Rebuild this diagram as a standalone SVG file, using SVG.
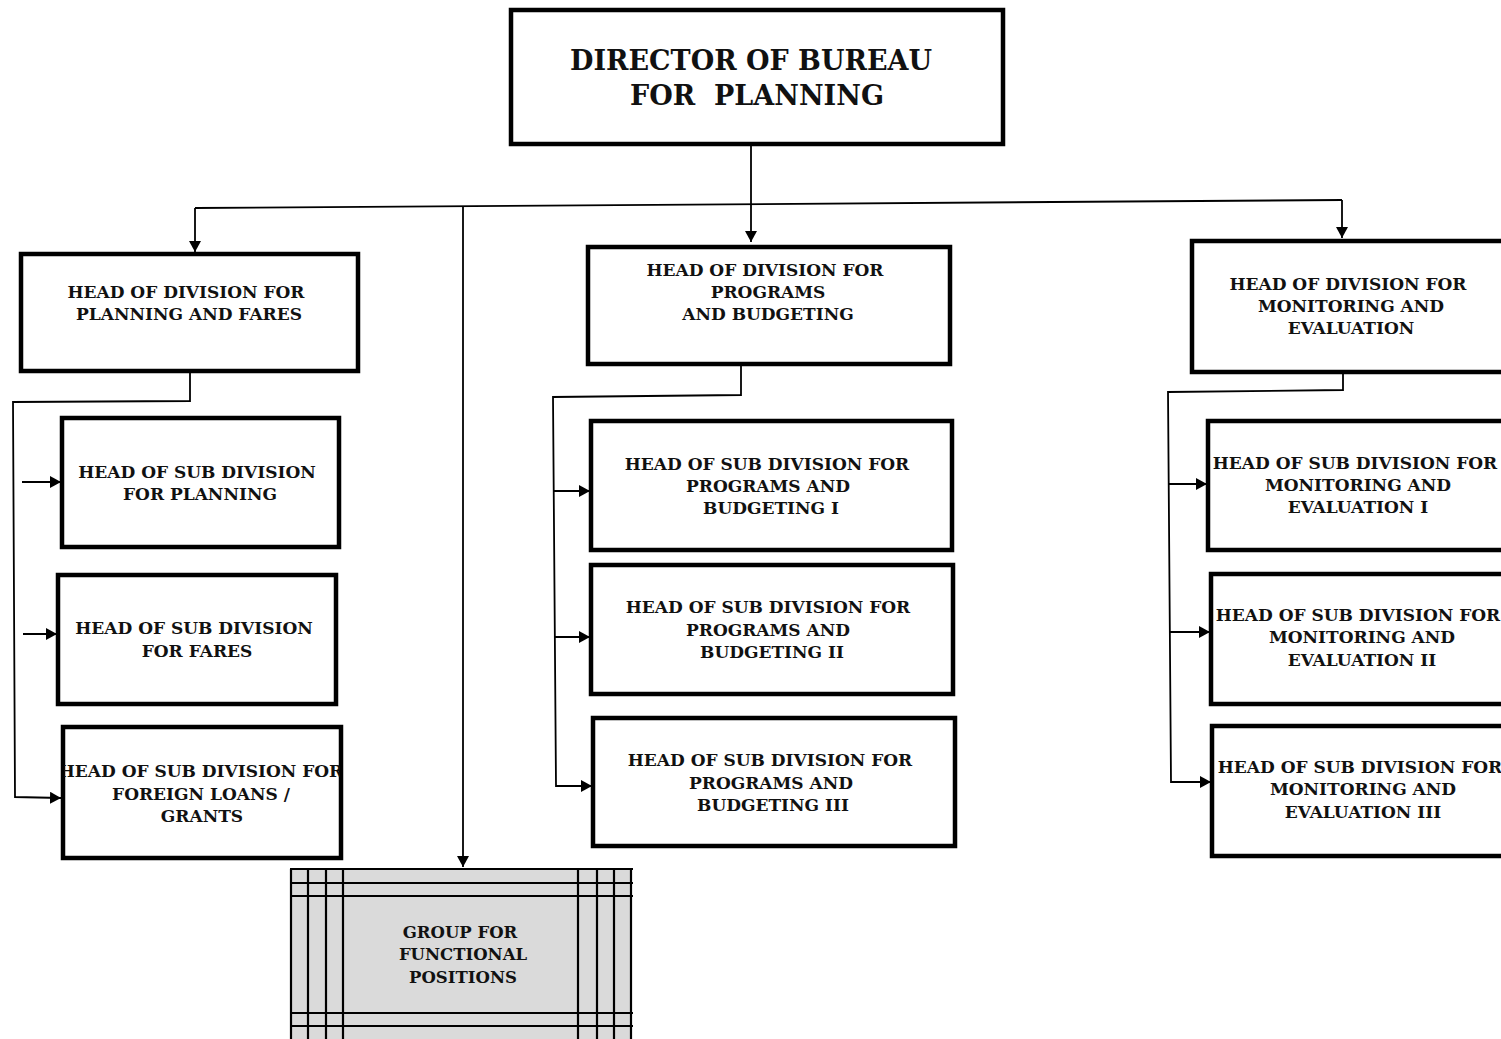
<svg xmlns="http://www.w3.org/2000/svg" width="1501" height="1039" viewBox="0 0 1501 1039">
<style>
.box{fill:#fff;stroke:#000;stroke-width:4.5}
.t{font-family:"DejaVu Serif","Liberation Serif",serif;font-weight:bold;font-size:17px;fill:#111;text-anchor:middle}
.big{font-size:27px;white-space:pre}
.g{font-size:16.5px}
.ln{fill:none;stroke:#000;stroke-width:1.8}
.gl{stroke:#000;stroke-width:2.2;fill:none}
</style>
<defs>
<marker id="ahs" markerWidth="11" markerHeight="12" refX="11" refY="6" orient="auto" markerUnits="userSpaceOnUse" viewBox="0 0 11 12">
<path d="M0,0 L11,6 L0,12 z" fill="#000"/>
</marker>
<clipPath id="c6"><rect x="64" y="728" width="276" height="129"/></clipPath>
</defs>

<g id="connectors">
<path class="ln" d="M751,146 L751,242" marker-end="url(#ahs)"/>
<path class="ln" d="M195,208 L1342,200"/>
<path class="ln" d="M195,208 L195,252" marker-end="url(#ahs)"/>
<path class="ln" d="M1342,200 L1342,238" marker-end="url(#ahs)"/>
<path class="ln" d="M463,207 L463,867" marker-end="url(#ahs)"/>
<!-- left -->
<path class="ln" d="M190,372 L190,401 L13,402 L15,797 L61,798" marker-end="url(#ahs)"/>
<path class="ln" d="M22,482 L61,482" marker-end="url(#ahs)"/>
<path class="ln" d="M23,634 L57,634" marker-end="url(#ahs)"/>
<!-- middle -->
<path class="ln" d="M741,365 L741,395 L553,397 L556,786 L592,786" marker-end="url(#ahs)"/>
<path class="ln" d="M553,491 L590,491" marker-end="url(#ahs)"/>
<path class="ln" d="M555,637 L590,637" marker-end="url(#ahs)"/>
<!-- right -->
<path class="ln" d="M1343,373 L1343,390 L1168,392 L1171,782 L1211,782" marker-end="url(#ahs)"/>
<path class="ln" d="M1169,484 L1207,484" marker-end="url(#ahs)"/>
<path class="ln" d="M1170,632 L1210,632" marker-end="url(#ahs)"/>
</g>

<g id="director">
<rect class="box" x="511" y="10" width="492" height="134"/>
<text class="t big" x="751" y="70">DIRECTOR OF BUREAU</text>
<text class="t big" x="757" y="105" xml:space="preserve">FOR  PLANNING</text>
</g>

<g id="div-planning">
<rect class="box" x="21" y="254" width="337" height="117"/>
<text class="t" x="186" y="298">HEAD OF DIVISION FOR</text>
<text class="t" x="189" y="320">PLANNING AND FARES</text>
</g>

<g id="div-programs">
<rect class="box" x="588" y="247" width="362" height="117"/>
<text class="t" x="765" y="276">HEAD OF DIVISION FOR</text>
<text class="t" x="768" y="298">PROGRAMS</text>
<text class="t" x="768" y="320">AND BUDGETING</text>
</g>

<g id="div-monitoring">
<rect class="box" x="1192" y="241" width="330" height="131"/>
<text class="t" x="1348" y="290">HEAD OF DIVISION FOR</text>
<text class="t" x="1351" y="312">MONITORING AND</text>
<text class="t" x="1351" y="334">EVALUATION</text>
</g>

<g id="sub-planning">
<rect class="box" x="62" y="418" width="277" height="129"/>
<text class="t" x="197" y="478">HEAD OF SUB DIVISION</text>
<text class="t" x="200" y="500">FOR PLANNING</text>
</g>

<g id="sub-fares">
<rect class="box" x="58" y="575" width="278" height="129"/>
<text class="t" x="194" y="634">HEAD OF SUB DIVISION</text>
<text class="t" x="197" y="657">FOR FARES</text>
</g>

<g id="sub-foreign-loans">
<rect class="box" x="63" y="727" width="278" height="131"/>
<g clip-path="url(#c6)">
<text class="t" x="201" y="777">HEAD OF SUB DIVISION FOR</text>
</g>
<text class="t" x="201" y="800">FOREIGN LOANS /</text>
<text class="t" x="202" y="822">GRANTS</text>
</g>

<g id="sub-pb1">
<rect class="box" x="591" y="421" width="361" height="129"/>
<text class="t" x="767" y="470">HEAD OF SUB DIVISION FOR</text>
<text class="t" x="768" y="492">PROGRAMS AND</text>
<text class="t" x="771" y="514">BUDGETING I</text>
</g>

<g id="sub-pb2">
<rect class="box" x="591" y="565" width="362" height="129"/>
<text class="t" x="768" y="613">HEAD OF SUB DIVISION FOR</text>
<text class="t" x="768" y="636">PROGRAMS AND</text>
<text class="t" x="772" y="658">BUDGETING II</text>
</g>

<g id="sub-pb3">
<rect class="box" x="593" y="718" width="362" height="128"/>
<text class="t" x="770" y="766">HEAD OF SUB DIVISION FOR</text>
<text class="t" x="771" y="789">PROGRAMS AND</text>
<text class="t" x="773" y="811">BUDGETING III</text>
</g>

<g id="sub-me1">
<rect class="box" x="1208" y="421" width="310" height="129"/>
<text class="t" x="1355" y="469">HEAD OF SUB DIVISION FOR</text>
<text class="t" x="1358" y="491">MONITORING AND</text>
<text class="t" x="1358" y="513">EVALUATION I</text>
</g>

<g id="sub-me2">
<rect class="box" x="1211" y="574" width="310" height="130"/>
<text class="t" x="1358" y="621">HEAD OF SUB DIVISION FOR</text>
<text class="t" x="1362" y="643">MONITORING AND</text>
<text class="t" x="1362" y="666">EVALUATION II</text>
</g>

<g id="sub-me3">
<rect class="box" x="1212" y="726" width="310" height="130"/>
<text class="t" x="1360" y="773">HEAD OF SUB DIVISION FOR</text>
<text class="t" x="1363" y="795">MONITORING AND</text>
<text class="t" x="1363" y="818">EVALUATION III</text>
</g>

<g id="group-functional">
<rect x="290" y="869" width="342" height="170" fill="#dadada"/>
<path class="gl" d="M290,869 L633,869 M290,883 L633,883 M290,896 L633,896 M290,1013 L633,1013 M290,1026 L633,1026"/>
<path class="gl" d="M291,869 V1039 M308,869 V1039 M326,869 V1039 M343,869 V1039 M578,869 V1039 M597,869 V1039 M614,869 V1039 M631,869 V1039"/>
<text class="t g" x="460" y="938">GROUP FOR</text>
<text class="t g" x="463" y="960">FUNCTIONAL</text>
<text class="t g" x="463" y="983">POSITIONS</text>
</g>
</svg>
